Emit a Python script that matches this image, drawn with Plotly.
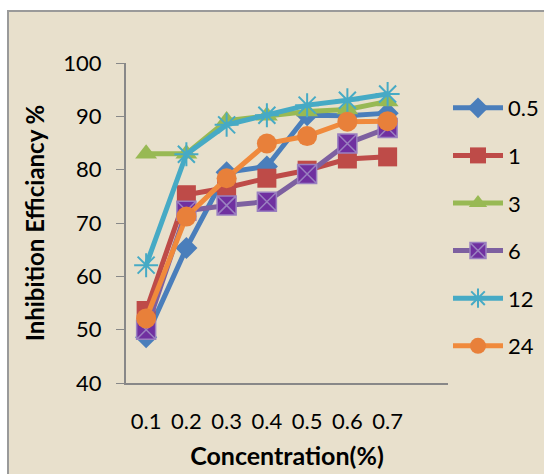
import plotly.graph_objects as go

concentration = [0.1, 0.2, 0.3, 0.4, 0.5, 0.6, 0.7]
tick_labels = ["0.1", "0.2", "0.3", "0.4", "0.5", "0.6", "0.7"]

s_05 = [48.6, 65.3, 79.5, 80.6, 90.2, 90.1, 90.6]
s_1 = [53.6, 75.3, 76.6, 78.4, 79.9, 82.0, 82.4]
s_3 = [83.0, 83.0, 89.2, 90.1, 90.9, 91.3, 92.8]
s_6 = [50.0, 72.3, 73.3, 74.0, 79.2, 84.9, 87.8]
s_12 = [62.1, 82.9, 88.4, 90.2, 92.1, 93.0, 94.2]
s_24 = [52.1, 71.2, 78.4, 84.9, 86.3, 89.0, 89.1]

series = [
    ("0.5", s_05, "#4a7ebb", "diamond", "#4a7ebb", 17),
    ("1", s_1, "#be4b48", "square", "#be4b48", 19),
    ("3", s_3, "#98b954", "triangle-up", "#98b954", 19),
    ("6", s_6, "#7d60a0", "square-x", "#7030a0", 19),
    ("12", s_12, "#46aac5", "asterisk", "#46aac5", 20),
    ("24", s_24, "#f08a3c", "circle", "#e8803a", 20),
]

fig = go.Figure()
for i, (name, vals, lc, sym, mc, ms) in enumerate(series):
    if sym == "asterisk":
        marker = dict(symbol=sym, size=ms, color=lc, line=dict(color=lc, width=2))
    elif sym == "square-x":
        marker = dict(symbol=sym, size=ms, color=mc, line=dict(color="#9a80c0", width=1.5))
    else:
        marker = dict(symbol=sym, size=ms, color=mc, line=dict(width=0))
    fig.add_trace(go.Scatter(
        x=concentration, y=vals, name=name, mode="lines+markers",
        line=dict(color=lc, width=5), marker=marker,
        legendgroup="g%d" % i,
    ))

# outer chart frame (beige area with gray border)
fig.add_shape(type="rect", xref="paper", yref="paper",
              x0=-(126 - 8)/322, x1=(544 - 126 + 5)/322,
              y0=-(474 - 383 + 5)/320, y1=1 + (63 - 11)/320,
              fillcolor="#e8e0cc", line=dict(color="#9a9a9a", width=2),
              layer="below")

fig.update_layout(
    width=544, height=474,
    margin=dict(l=126, r=96, t=63, b=91, autoexpand=False),
    paper_bgcolor="white",
    plot_bgcolor="white",
    font=dict(family="Lato", size=22, color="black"),
    showlegend=True,
    legend=dict(x=1.0, y=0.925, xanchor="left", yanchor="top",
                bgcolor="rgba(0,0,0,0)", tracegroupgap=16,
                font=dict(size=22), itemwidth=50),
    xaxis=dict(range=[0.05, 0.85], tickvals=concentration, ticktext=tick_labels,
               showgrid=False, zeroline=False, showline=True, linecolor="#888888",
               linewidth=2, ticks="", ticklabelstandoff=18, automargin=False,
               title=dict(text="<b>Concentration(%)</b>", font=dict(size=25), standoff=14)),
    yaxis=dict(range=[40, 100], tickvals=[40, 50, 60, 70, 80, 90, 100],
               showgrid=False, zeroline=False, showline=True, linecolor="#888888",
               linewidth=2, ticks="outside", ticklen=8, tickcolor="#888888",
               ticklabelstandoff=10, automargin=False,
               title=dict(text="<b>Inhibition Efficiancy %</b>", font=dict(size=24), standoff=12)),
)

fig.write_html("out.html")
